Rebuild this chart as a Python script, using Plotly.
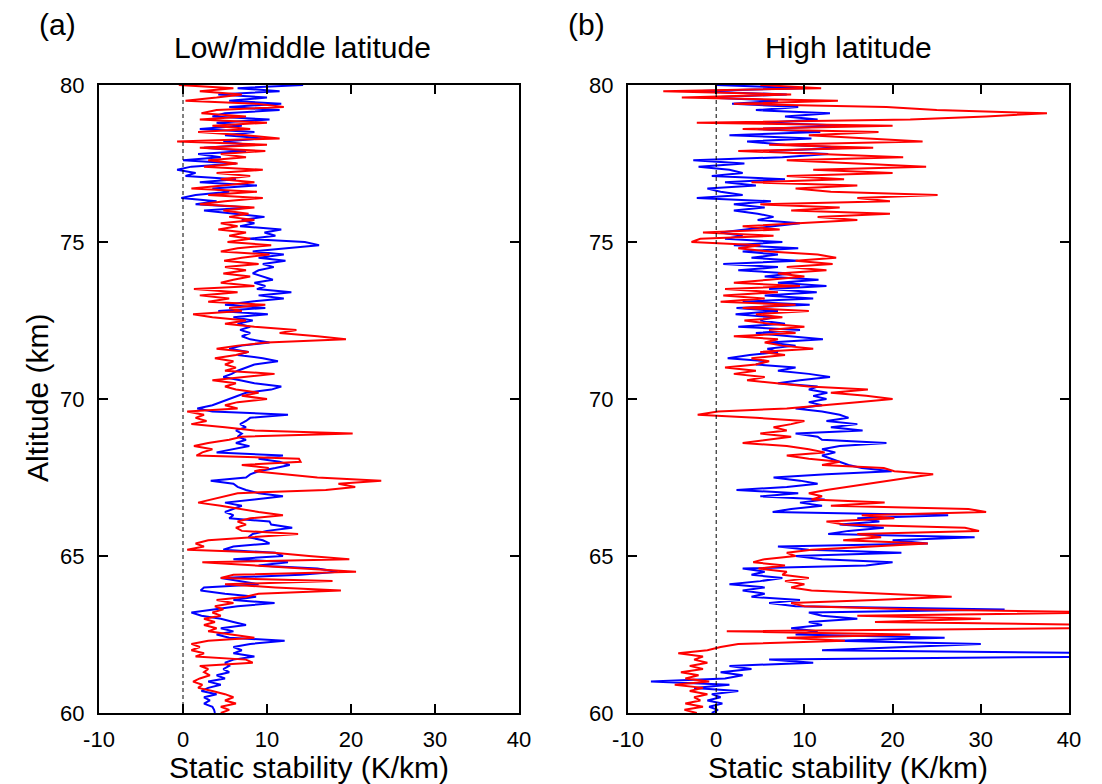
import plotly.graph_objects as go

# Altitude grid (km), from 80.0 down to 60.0 in 0.1 km steps
ALT = [round(80 - 0.1 * i, 1) for i in range(201)]

# Panel (a) Low/middle latitude - red profile (K/km)
LOW_RED = [
    -0.5, 6.0, 2.0, 7.0, 4.0, 0.3, 8.8, 12.0, 4.0, 2.2,
    7.5, 2.0, 10.0, 3.5, 8.0, 1.8, 7.5, 11.5, -0.7, 10.0,
    2.0, 9.8, 4.5, 7.5, 3.0, 6.5, 2.5, 9.5, 4.0, 8.0,
    4.5, 8.5, 4.8, 1.0, 8.8, 3.0, 9.5, 5.0, 2.0, 8.5,
    4.8, 7.8, 5.5, 8.5, 4.5, 6.5, 4.2, 7.5, 5.5, 8.0,
    5.3, 10.5, 6.5, 4.5, 10.3, 7.0, 4.9, 9.0, 5.0, 7.5,
    4.8, 8.0, 6.0, 4.5, 8.5, 1.3, 6.5, 2.0, 5.5, 3.0,
    9.8, 5.5, 7.0, 1.2, 3.5, 7.5, 5.0, 8.5, 13.5, 11.5,
    16.0, 19.4, 10.0, 6.5, 4.0, 7.8, 6.3, 3.8, 6.0, 5.0,
    6.3, 5.0, 10.9, 7.5, 3.5, 6.3, 5.0, 6.3, 9.0, 7.0,
    10.0, 6.5, 5.0, 6.5, 0.5, 2.5, 1.5, 2.8, 1.0, 5.0,
    8.5, 20.2, 7.0, 5.5, 3.0, 1.3, 3.5, 2.3, 1.6, 13.8,
    14.0, 7.0, 10.2, 8.5, 12.0, 16.0, 23.6, 18.5, 20.5, 17.0,
    6.5, 5.0, 3.5, 1.8, 4.5, 6.8, 9.0, 11.9, 8.0, 6.5,
    7.5, 6.3, 7.0, 13.7, 8.5, 3.0, 1.5, 2.5, 0.5, 10.8,
    15.0, 19.8, 2.3, 8.0, 14.0, 20.6, 6.0, 4.5, 17.8, 5.0,
    11.0, 18.8, 9.0, 7.5, 4.0, 6.0, 3.8, 4.8, 3.5, 4.5,
    2.5, 3.8, 2.5, 4.0, 3.0, 5.5, 8.5, 3.0, 1.0, 2.0,
    1.0, 2.5, 1.5, 7.5, 8.3, 2.0, 3.0, 2.5, 3.2, 2.0,
    1.2, 2.3, 1.8, 3.5, 5.0, 6.0, 5.0, 6.3, 4.5, 5.5,
    4.5,
]

# Panel (a) Low/middle latitude - blue profile (K/km)
LOW_BLUE = [
    14.3, 6.5, 11.5, 4.2, 10.0, 5.5, 11.7, 5.5, 11.5, 5.0,
    3.5, 10.3, 4.0, 7.0, 2.0, 8.5, 5.0, 9.5, 4.8, 7.8,
    2.5, 7.5, 1.8, 4.5, 0.0, 6.3, 1.0, -0.7, 1.5, 0.3,
    6.3, 2.0, 8.8, 3.5, 5.5, 1.5, -0.2, 4.0, 1.5, 7.9,
    2.5, 6.3, 9.7, 7.0, 8.5, 6.8, 11.7, 9.7, 11.0, 7.8,
    14.5, 16.2, 12.5, 8.3, 12.0, 9.0, 12.2, 9.5, 10.8, 9.0,
    8.3, 9.5, 10.7, 8.5, 9.8, 8.8, 12.9, 9.0, 12.0, 8.0,
    5.0, 9.8, 4.2, 10.1, 6.0, 8.3, 6.5, 8.0, 6.8, 8.0,
    7.0, 8.0, 10.3, 7.0, 5.5, 7.8, 6.5, 9.5, 11.3, 8.5,
    7.5, 6.5, 5.8, 4.8, 6.8, 8.5, 11.7, 10.5, 7.5, 6.5,
    5.5, 4.5, 3.5, 1.7, 3.5, 12.5, 8.0, 7.5, 6.8, 7.5,
    6.3, 7.0, 6.5, 7.5, 6.3, 7.9, 5.8, 4.0, 11.9, 9.0,
    11.5, 12.7, 11.0, 9.0, 8.0, 7.5, 3.3, 6.0, 6.5, 7.5,
    9.0, 11.9, 8.5, 5.0, 7.0, 6.0, 5.0, 6.0, 5.5, 10.3,
    10.5, 13.0, 10.0, 8.3, 7.8, 9.5, 10.3, 6.0, 4.8, 11.0,
    11.9, 6.0, 12.5, 9.0, 16.0, 18.4, 14.0, 4.5, 7.0, 9.0,
    2.5, 2.1, 5.0, 8.7, 6.0, 10.9, 6.5, 3.5, 1.0, 2.2,
    4.5, 6.0, 7.5, 4.5, 6.0, 4.0, 5.5, 12.1, 8.0, 6.0,
    7.0, 6.0, 8.5, 6.0, 5.0, 5.5, 4.8, 5.5, 4.0, 5.0,
    3.0, 4.5, 3.0, 2.2, 4.0, 2.5, 3.2, 2.5, 3.5, 3.7,
    3.8,
]

# Panel (b) High latitude - red profile (K/km)
HIGH_RED = [
    5.0, 11.9, -6.0, 8.5, -3.9, 13.8, 2.0, 19.3, 25.0, 37.5,
    30.6, 22.0, -2.2, 20.0, 3.0, 18.4, 10.5, 17.5, 23.4, 6.0,
    17.8, 2.5, 12.0, 21.2, 8.0, 16.5, 23.8, 11.0, 20.0, 8.0,
    14.5, 4.0, 16.0, 9.0, 13.0, 25.1, 16.0, 19.7, 5.0, 14.0,
    8.5, 19.7, 11.5, 16.0, 9.0, 3.0, 7.2, -1.5, 6.5, -1.8,
    -2.8, 5.0, 2.5, 6.0, 11.5, 13.6, 9.0, 13.2, 8.0, 12.5,
    7.0, 10.0, 6.0, 2.0, 9.5, 1.0, 7.0, 0.8, 5.5, 0.5,
    9.0, 3.0, 10.5, 4.5, 7.5, 3.2, 6.0, 10.0, 6.0, 9.0,
    2.0, 7.0, 5.5, 7.5, 11.0, 5.0, 7.8, 4.0, 6.0, 4.5,
    1.0, 4.5, 2.0, 5.5, 3.5, 7.0, 10.5, 17.2, 13.0, 17.0,
    20.0, 16.0, 12.0, 8.0, 0.2, -2.1, 4.5, 10.0, 8.5, 6.5,
    8.0, 5.0, 8.5, 6.0, 3.0, 8.0, 10.5, 12.3, 8.0, 10.5,
    14.0, 12.0, 19.0, 20.2, 24.6, 22.0, 19.5, 17.0, 14.5, 12.5,
    10.5, 12.0, 10.8, 19.1, 13.0, 28.6, 30.6, 16.5, 20.2, 12.5,
    14.5, 28.2, 29.8, 16.0, 18.7, 14.4, 24.0, 17.0, 10.8, 8.0,
    9.0, 5.5, 4.2, 7.8, 4.8, 8.0, 7.5, 10.5, 7.8, 10.0,
    8.5, 10.8, 18.0, 26.7, 18.0, 8.5, 10.0, 23.0, 45.0, 16.0,
    30.0, 18.0, 45.0, 42.0, 1.2, 22.0, 8.0, 14.6, 2.5, 0.5,
    -1.0, -4.3, -1.5, -2.5, -1.0, -3.0, -1.5, -4.0, -2.0, -3.5,
    -0.8, -4.7, -1.5, -3.0, -1.0, -2.5, -1.8, -3.5, -1.5, -3.6,
    -2.2,
]

# Panel (b) High latitude - blue profile (K/km)
HIGH_BLUE = [
    0.0, 10.0, -2.6, 8.0, -1.0, 7.0, 1.8, 9.3, 4.5, 12.9,
    7.8, 11.5, 5.5, 14.9, 4.7, 11.8, 1.5, 10.8, 3.5, 7.8,
    14.9, 6.0, 12.7, 7.5, -2.6, 3.2, -2.0, 1.5, 3.0, -0.5,
    7.8, 1.0, 4.5, -1.0, 0.5, 3.0, -2.2, 6.2, 2.0, 5.5,
    2.0, 4.7, 6.5, 4.7, 9.5, 6.0, 3.3, 0.5, 3.0, 1.0,
    7.5, 2.0, 9.3, 3.0, 7.0, 4.0, 9.3, 0.8, 7.0, 2.5,
    8.5, 5.5, 11.6, 7.0, 12.5, 6.0, 11.4, 5.5, 11.0, 3.0,
    10.6, 2.3, 7.0, 2.2, 6.5, 5.0, 7.8, 2.5, 9.5, 4.5,
    8.0, 12.1, 6.0, 9.0, 5.8, 7.0, 3.8, 1.3, 5.8, 4.5,
    9.0, 7.0, 10.5, 12.9, 9.5, 7.0, 11.5, 10.5, 12.6, 11.0,
    12.5, 10.5, 12.0, 9.0, 12.0, 14.0, 15.0, 12.5, 16.0, 13.0,
    16.6, 9.0, 11.5, 12.0, 19.3, 14.0, 12.0, 13.5, 12.0, 13.0,
    14.0, 15.0, 16.5, 19.9, 12.5, 6.5, 9.5, 11.5, 8.0, 2.3,
    9.3, 5.0, 12.3, 9.5, 12.0, 8.5, 6.4, 26.3, 16.0, 18.5,
    14.0, 19.0, 15.0, 12.7, 29.3, 20.0, 24.0, 7.0, 10.5, 21.0,
    9.0, 12.0, 20.0, 17.0, 3.0, 5.5, 4.0, 7.5, 5.0, 1.5,
    5.5, 3.0, 5.5, 4.0, 9.5, 6.0, 9.0, 32.7, 10.5, 12.0,
    16.0, 10.5, 12.0, 8.5, 11.5, 9.0, 25.9, 13.5, 30.0, 20.5,
    12.0, 45.0, 45.0, 6.0, 11.0, 1.5, 4.0, 0.5, 3.0, 1.0,
    -7.4, 1.5, -2.5, 2.5, -0.5, 0.5, -1.0, 0.7, -0.8, 0.2,
    -0.5,
]

X_TICKS = [-10, 0, 10, 20, 30, 40]
X_TICK_TEXT = ["-10", "0", "10", "20", "30", "40"]
Y_TICKS = [60, 65, 70, 75, 80]
Y_TICK_TEXT = ["60", "65", "70", "75", "80"]
PANEL_TITLES = ["Low/middle latitude", "High latitude"]
PANEL_LABELS = ["(a)", "(b)"]
X_TITLE = "Static stability (K/km)"
Y_TITLE = "Altitude (km)"

W, H = 1102, 784
FONT = "Liberation Sans, Arial, sans-serif"
RED = "#ff0000"
BLUE = "#0000ff"

fig = go.Figure()

panels = [
    ("x", "y", LOW_RED, LOW_BLUE),
    ("x2", "y2", HIGH_RED, HIGH_BLUE),
]
for xa, ya, red, blue in panels:
    fig.add_trace(go.Scatter(x=blue, y=ALT, xaxis=xa, yaxis=ya, mode="lines",
                             line=dict(color=BLUE, width=2), showlegend=False,
                             hoverinfo="skip"))
    fig.add_trace(go.Scatter(x=red, y=ALT, xaxis=xa, yaxis=ya, mode="lines",
                             line=dict(color=RED, width=2), showlegend=False,
                             hoverinfo="skip"))
    # zero reference (dashed)
    fig.add_trace(go.Scatter(x=[0, 0], y=[60, 80], xaxis=xa, yaxis=ya, mode="lines",
                             line=dict(color="black", width=1, dash="4px,3px"),
                             showlegend=False, hoverinfo="skip"))

ydom = [1 - 713 / H, 1 - 85 / H]
xdom_a = [99 / W, 519 / W]
xdom_b = [628 / W, 1069 / W]

axis_common = dict(
    showgrid=False, zeroline=False, showline=True, linecolor="black", linewidth=2,
    mirror="ticks", ticks="inside", ticklen=9, tickwidth=1.5, tickcolor="black",
    tickfont=dict(family=FONT, size=22, color="black"), automargin=False,
)

fig.update_layout(
    width=W, height=H,
    margin=dict(l=0, r=0, t=0, b=0, autoexpand=False),
    paper_bgcolor="white", plot_bgcolor="white",
    xaxis=dict(domain=xdom_a, range=[-10, 40], tickvals=X_TICKS, ticktext=X_TICK_TEXT,
               anchor="y", ticklabelstandoff=6, **axis_common),
    yaxis=dict(domain=ydom, range=[60, 80], tickvals=Y_TICKS, ticktext=Y_TICK_TEXT,
               anchor="x", ticklabelstandoff=8, **axis_common),
    xaxis2=dict(domain=xdom_b, range=[-10, 40], tickvals=X_TICKS, ticktext=X_TICK_TEXT,
                anchor="y2", ticklabelstandoff=6, **axis_common),
    yaxis2=dict(domain=ydom, range=[60, 80], tickvals=Y_TICKS, ticktext=Y_TICK_TEXT,
                anchor="x2", ticklabelstandoff=8, **axis_common),
)

tf = dict(family=FONT, size=30, color="black")
annotations = [
    dict(text=PANEL_LABELS[0], x=37 / W, y=1 - 25 / H, xanchor="left", yanchor="middle"),
    dict(text=PANEL_LABELS[1], x=566 / W, y=1 - 25 / H, xanchor="left", yanchor="middle"),
    dict(text=PANEL_TITLES[0], x=302 / W, y=1 - 48 / H, xanchor="center", yanchor="middle"),
    dict(text=PANEL_TITLES[1], x=848 / W, y=1 - 48 / H, xanchor="center", yanchor="middle"),
    dict(text=X_TITLE, x=309 / W, y=1 - 767 / H, xanchor="center", yanchor="middle"),
    dict(text=X_TITLE, x=848 / W, y=1 - 767 / H, xanchor="center", yanchor="middle"),
    dict(text=Y_TITLE, x=37 / W, y=1 - 398 / H, xanchor="center", yanchor="middle", textangle=-90),
]
for a in annotations:
    a.update(xref="paper", yref="paper", showarrow=False, font=tf)
fig.update_layout(annotations=annotations)

fig.write_html("out.html")
